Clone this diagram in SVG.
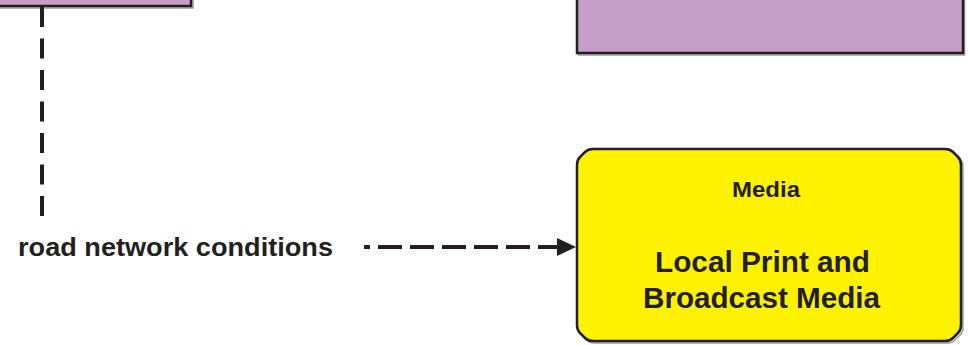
<svg xmlns="http://www.w3.org/2000/svg" width="968" height="345" viewBox="0 0 968 345">
<style>
.box{stroke:#231f20;stroke-width:2.5}
.purple{fill:#c69fc9}
.yellow{fill:#fff200}
.shadow{fill:none;stroke:#9a9a9a;stroke-width:1.5}
.txt{font-family:"Liberation Sans",Arial,sans-serif;font-weight:bold;fill:#231f20}
.dash{stroke:#231f20;stroke-width:4;fill:none}
</style>
<g id="node-top-left">
<rect class="shadow" x="-9" y="-9" width="202" height="17"/>
<rect class="box purple" x="-10" y="-10" width="201" height="16"/>
</g>
<g id="node-top-right">
<rect class="shadow" x="578.5" y="-9" width="386" height="64"/>
<rect class="box purple" x="577" y="-10" width="386" height="63"/>
</g>
<g id="node-media">
<path class="shadow" d="M594,151 L948,151 Q952,151 955,154 L960,159 Q963,162 963,166 L963,328 Q963,332 960,335 L955,340 Q952,343 948,343 L594,343 Q590,343 587,340 L582,335 Q579,332 579,328 L579,166"/>
<path class="box yellow" d="M593,149 L945,149 Q950,149 953,152 L958,157 Q961,160 961,165 L961,325 Q961,330 958,333 L953,338 Q950,341 945,341 L593,341 Q588,341 585,338 L580,333 Q577,330 577,325 L577,165 Q577,160 580,157 L585,152 Q588,149 593,149 Z"/>
<text class="txt" x="766" y="197" font-size="22" text-anchor="middle" textLength="68" lengthAdjust="spacingAndGlyphs">Media</text>
<text class="txt" x="762.5" y="272" font-size="29" text-anchor="middle" textLength="215" lengthAdjust="spacingAndGlyphs">Local Print and</text>
<text class="txt" x="761.5" y="308" font-size="29" text-anchor="middle" textLength="237" lengthAdjust="spacingAndGlyphs">Broadcast Media</text>
</g>
<g id="connectors">
<line class="dash" x1="42" y1="7" x2="42" y2="218" stroke-dasharray="20 11.5"/>
<line class="dash" x1="364" y1="247" x2="558" y2="247" stroke-dasharray="24 8" stroke-dashoffset="18"/>
<polygon points="557,238 576,247 557,256" fill="#231f20"/>
<text class="txt" x="18" y="256" font-size="26" textLength="315" lengthAdjust="spacingAndGlyphs">road network conditions</text>
</g>
</svg>
